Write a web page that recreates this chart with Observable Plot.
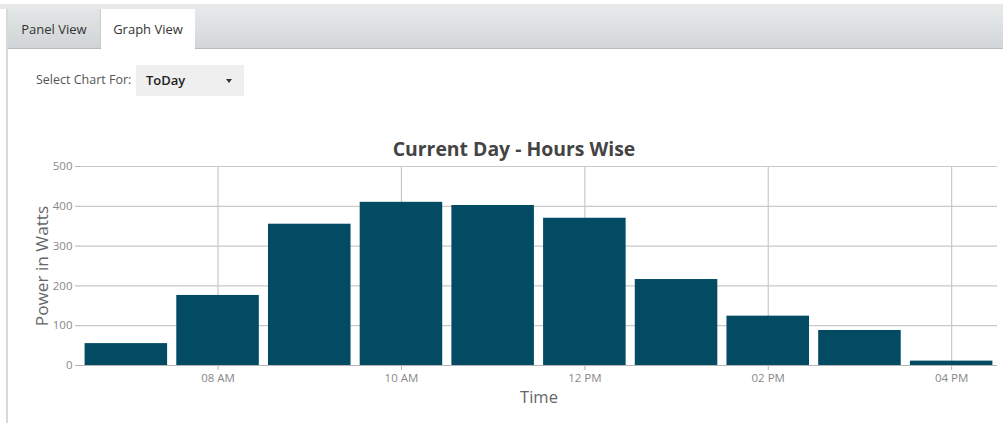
<!DOCTYPE html>
<html>
<head>
<meta charset="utf-8">
<script src="https://cdn.jsdelivr.net/npm/d3@7"></script>
<script src="https://cdn.jsdelivr.net/npm/@observablehq/plot@0.6"></script>
<style>
  html, body { margin: 0; padding: 0; background: #fff; width: 1003px; height: 423px; overflow: hidden; font-family: "Open Sans", sans-serif; }
  .topline { position: absolute; left: 0; top: 4px; width: 1003px; height: 5px; background: #e8e8e8; }
  .tabbar { position: absolute; left: 7px; top: 9px; width: 996px; height: 39px;
    background: linear-gradient(#e6e9e9, #d2d6d8); border-bottom: 1px solid #b8bcbd; }
  .leftborder { position: absolute; left: 6px; top: 9px; width: 2px; height: 414px; background: #d9d9d9; }
  .tab { position: absolute; top: 9px; height: 40px; font-size: 13px; color: #333; line-height: 40px; text-align: center; }
  .tab1 { left: 8px; width: 92px; background: linear-gradient(#e3e6e6, #d0d4d6); border-right: 1px solid #c8cccc; border-top-left-radius: 3px; height: 39px; }
  .tab2 { left: 101px; width: 94px; background: #fff; }
  .sel-label { position: absolute; left: 36px; top: 71px; font-size: 12.5px; color: #555; }
  .sel-box { position: absolute; left: 136px; top: 65px; width: 108px; height: 31px; background: #efefef; }
  .sel-text { position: absolute; left: 10px; top: 6px; font-size: 13px; color: #222; font-weight: 600; }
  .caret { position: absolute; left: 90px; top: 14px; width: 0; height: 0; border-left: 3px solid transparent; border-right: 3px solid transparent; border-top: 4px solid #333; }
  .title { position: absolute; left: 0; width: 1028px; top: 135px; text-align: center; font-size: 19.4px; font-weight: 700; color: #444; }
  #chart { position: absolute; left: 0; top: 130px; }
</style>
</head>
<body>
<div class="topline"></div>
<div class="tabbar"></div>
<div class="leftborder"></div>
<div class="tab tab1">Panel View</div>
<div class="tab tab2">Graph View</div>
<div class="sel-label">Select Chart For:</div>
<div class="sel-box"><span class="sel-text">ToDay</span><span class="caret"></span></div>
<div class="title">Current Day - Hours Wise</div>
<div id="chart"></div>
<script>
const hours = ["07 AM", "08 AM", "09 AM", "10 AM", "11 AM", "12 PM", "01 PM", "02 PM", "03 PM", "04 PM"];
const watts = [55, 176, 355, 410, 402, 370, 216, 124, 88, 11];
const xTicks = ["08 AM", "10 AM", "12 PM", "02 PM", "04 PM"];
const yTicks = [0, 100, 200, 300, 400, 500];
const data = hours.map((h, i) => ({hour: h, watts: watts[i]}));

const gridColor = "#c9c9c9";
const chart = Plot.plot({
  width: 1003,
  height: 290,
  marginTop: 36,
  marginBottom: 55,
  marginLeft: 80,
  marginRight: 6,
  style: {fontFamily: "'Open Sans', sans-serif", fontSize: "11.5px", background: "transparent"},
  x: {type: "band", domain: hours, paddingInner: 0.1, paddingOuter: 0.05, round: false},
  y: {domain: [0, 500]},
  marks: [
    Plot.gridY(yTicks, {stroke: gridColor, strokeOpacity: 1, strokeWidth: 1.2}),
    Plot.gridX(xTicks, {stroke: gridColor, strokeOpacity: 1, strokeWidth: 1.2}),
    Plot.barY(data, {x: "hour", y: "watts", fill: "#034b63"}),
    Plot.ruleY([0], {stroke: "#b5b5b5", strokeWidth: 1.2}),
    Plot.axisY({ticks: yTicks, tickSize: 5, tickPadding: 3, label: null, line: true, stroke: "#b5b5b5", fill: "#888"}),
    Plot.axisX({ticks: xTicks, tickSize: 5, tickPadding: 3, label: null, stroke: "#b5b5b5", fill: "#888"}),
    Plot.text(["Power in Watts"], {frameAnchor: "left", dx: -38, rotate: -90, textAnchor: "middle", lineAnchor: "middle", fontSize: 17.2, fill: "#666", text: d => d}),
    Plot.text(["Time"], {frameAnchor: "bottom", dy: 32, textAnchor: "middle", lineAnchor: "middle", fontSize: 16.5, fill: "#666", text: d => d})
  ]
});
document.getElementById("chart").appendChild(chart);
</script>
</body>
</html>
